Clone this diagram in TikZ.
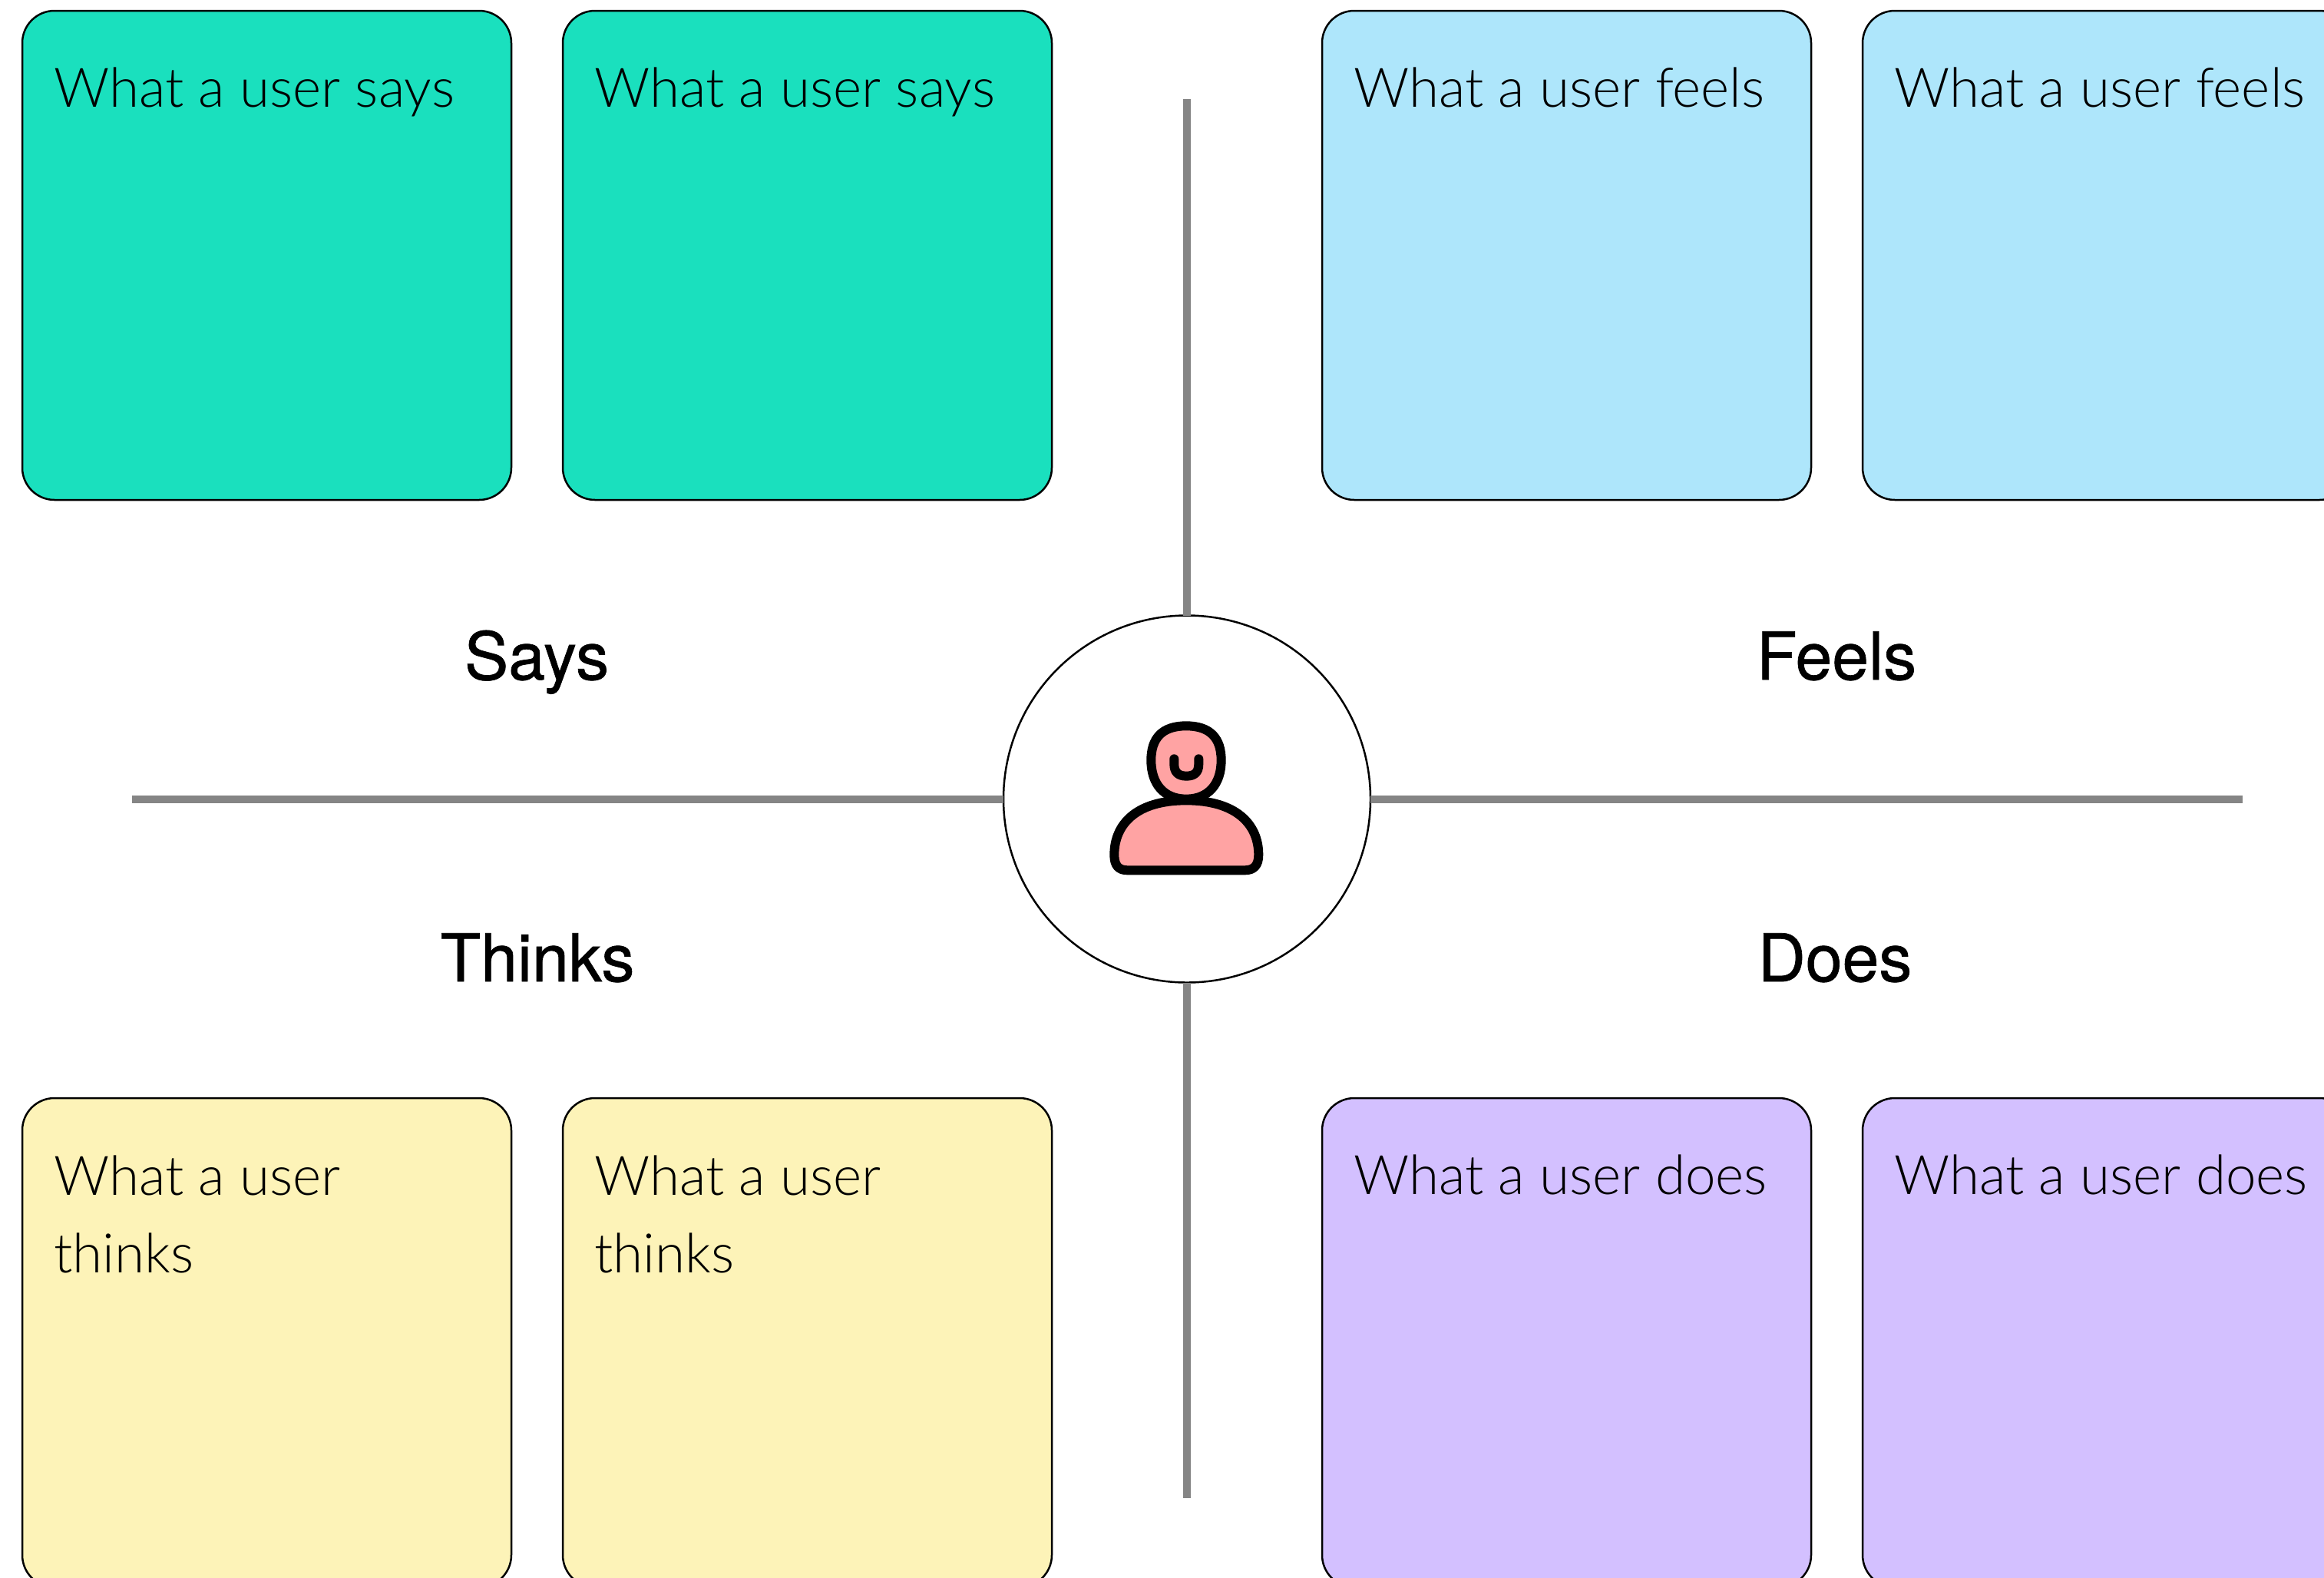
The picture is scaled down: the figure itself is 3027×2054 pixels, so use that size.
\documentclass[tikz,border=0pt]{standalone}
\usepackage{fontspec}
\setmainfont{TeX Gyre Heros}
\newfontfamily\lightfont{Lato Light}
\newfontfamily\titlefont[FakeBold=0.8]{TeX Gyre Heros}
\definecolor{teal1}{HTML}{1AE0BE}
\definecolor{blue1}{HTML}{AEE6FB}
\definecolor{yellow1}{HTML}{FDF3B8}
\definecolor{purple1}{HTML}{D3C0FF}
\definecolor{pink1}{HTML}{FFA3A3}
\definecolor{gray1}{HTML}{858585}
\tikzset{
  card/.style={draw=black,line width=2.5pt,rounded corners=42pt,minimum width=637pt,minimum height=637pt,anchor=north west,inner sep=0pt,outer sep=0pt},
  cardtext/.style={font=\lightfont\fontsize{71}{101}\selectfont,anchor=base west,align=left,inner sep=0pt,outer sep=0pt},
  title/.style={font=\titlefont\fontsize{86}{90}\selectfont,anchor=base,inner sep=0pt,outer sep=0pt},
  axis/.style={draw=gray1,line width=10pt},
  hubnode/.style={circle,draw=black,line width=2.5pt,fill=white,minimum size=478pt,inner sep=0pt,outer sep=0pt},
  iconline/.style={draw=black,line width=12pt,fill=pink1,line join=round,line cap=round}
}
\begin{document}
\begin{tikzpicture}[x=1pt,y=-1pt]
\useasboundingbox[fill=white] (0,0) rectangle (3027,2054);
\coordinate (topend) at (1546,129);
\coordinate (botend) at (1546,1951);
\coordinate (leftend) at (172,1040.5);
\coordinate (rightend) at (2921,1040.5);
\node[hubnode] (hub) at (1546,1040.5) {};
\draw[axis] (topend) -- (hub.north);
\draw[axis] (hub.south) -- (botend);
\draw[axis] (leftend) -- (hub.west);
\draw[axis] (hub.east) -- (rightend);
\node[card,fill=teal1] (s1) at (29,14) {};
\node[card,fill=teal1] (s2) at (733,14) {};
\node[card,fill=blue1] (f1) at (1722,14) {};
\node[card,fill=blue1] (f2) at (2426,14) {};
\node[card,fill=yellow1] (t1) at (29,1430) {};
\node[card,fill=yellow1] (t2) at (733,1430) {};
\node[card,fill=purple1] (d1) at (1722,1430) {};
\node[card,fill=purple1] (d2) at (2426,1430) {};
\node[cardtext] (s1t) at (70,139) {What a user says};
\node[cardtext] (s2t) at (774,139) {What a user says};
\node[cardtext] (f1t) at (1763,139) {What a user feels};
\node[cardtext] (f2t) at (2467,139) {What a user feels};
\node[cardtext,anchor=north west] (t1t) at (70,1505) {What a user\\thinks};
\node[cardtext,anchor=north west] (t2t) at (774,1505) {What a user\\thinks};
\node[cardtext] (d1t) at (1763,1555) {What a user does};
\node[cardtext] (d2t) at (2467,1555) {What a user does};
\node[title] (says) at (699,885) {Says};
\node[title] (feels) at (2392,885) {Feels};
\node[title] (thinks) at (700,1278) {Thinks};
\node[title] (does) at (2390,1278) {Does};
\begin{scope}[shift={(1300,780)},x=0.3333pt,y=-0.3333pt]
\draw[iconline] (735,496) .. controls (640,496) and (598,545) .. (598,630) .. controls (598,725) and (650,782) .. (735,782) .. controls (820,782) and (872,725) .. (872,630) .. controls (872,545) and (830,496) .. (735,496) -- cycle;
\draw[iconline,fill=none] (688,625) -- (688,645) .. controls (688,678) and (705,692) .. (736,692) .. controls (767,692) and (784,678) .. (784,645) -- (784,625);
\draw[iconline] (735,787) .. controls (540,787) and (454,880) .. (454,1000) .. controls (454,1040) and (470,1060) .. (505,1060) -- (965,1060) .. controls (1000,1060) and (1018,1040) .. (1018,1000) .. controls (1018,880) and (930,787) .. (735,787) -- cycle;
\end{scope}
\end{tikzpicture}
\end{document}
